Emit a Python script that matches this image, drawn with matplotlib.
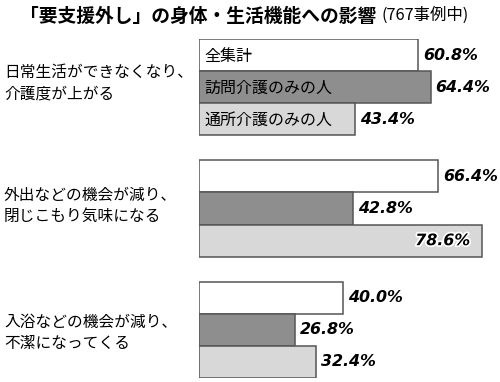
import matplotlib
matplotlib.use("Agg")
import matplotlib.pyplot as plt
import matplotlib.transforms as mtransforms
import matplotlib.patheffects as pe

plt.rcParams["font.family"] = ["Noto Sans CJK JP", "DejaVu Sans"]

# ── data ──────────────────────────────────────────────────────────────────────
categories = [
    "日常生活ができなくなり、\n介護度が上がる",
    "外出などの機会が減り、\n閉じこもり気味になる",
    "入浴などの機会が減り、\n不潔になってくる",
]
series = ["全集計", "訪問介護のみの人", "通所介護のみの人"]
total = [60.8, 66.4, 40.0]
home_visit = [64.4, 42.8, 26.8]
day_service = [43.4, 78.6, 32.4]
title_main = "「要支援外し」の身体・生活機能への影響"
title_sub = "(767事例中)"

values = [total, home_visit, day_service]
colors = ["#ffffff", "#8e8e8e", "#d8d8d8"]
GROUP_STEP = 3.77
label_shift = [-0.12, -0.08, 0.1]   # small nudges of the left labels

# ── figure / axes (bars start at x=199px, 3.6px per %) ────────────────────────
fig = plt.figure(figsize=(5.0, 3.82), dpi=100)
ax = fig.add_axes([199 / 500, 4 / 382, 301 / 500, 339 / 382])
ax.set_xlim(0, 301 / 3.6)
ax.set_ylim(2 * GROUP_STEP + 2.5, -0.5)
ax.axis("off")

val_style = dict(fontsize=11.4, fontweight="bold", style="italic",
                 family="DejaVu Sans", va="center", zorder=3,
                 textcoords="offset points")

for j, (vals, col) in enumerate(zip(values, colors)):
    ys = [g * GROUP_STEP + j for g in range(len(categories))]
    ax.barh(ys, vals, height=1.0, color=col, edgecolor="#555555",
            linewidth=1.1, zorder=2)
    for y, v in zip(ys, vals):
        if v > 70:
            # too long to fit on the right -> inside the bar
            ax.annotate(f"{v:.1f}%", (v, y), xytext=(-8.5, 0), ha="right",
                        path_effects=[pe.withStroke(linewidth=2.5,
                                                    foreground="white")],
                        **val_style)
        else:
            ax.annotate(f"{v:.1f}%", (v, y), xytext=(3.5, 0), ha="left",
                        **val_style)
    # series names inside the first group
    ax.annotate(series[j], (0, ys[0]), xytext=(4, -1),
                textcoords="offset points", ha="left", va="center",
                fontsize=11.5, zorder=3)

# category labels on the left
trans = mtransforms.blended_transform_factory(fig.transFigure, ax.transData)
for g, cat in enumerate(categories):
    ax.text(4 / 500, g * GROUP_STEP + 1 + label_shift[g], cat,
            transform=trans, ha="left", va="center", fontsize=11.3,
            linespacing=1.3)

# title
t = fig.text(20 / 500, 1 - 16 / 382, title_main, ha="left", va="center",
             fontsize=13.5, fontweight="bold")
ax.annotate(title_sub, xy=(1, 0), xycoords=t, xytext=(4, 1),
            textcoords="offset points", ha="left", va="bottom",
            fontsize=11.8)

fig.savefig("out.png", dpi=100)
